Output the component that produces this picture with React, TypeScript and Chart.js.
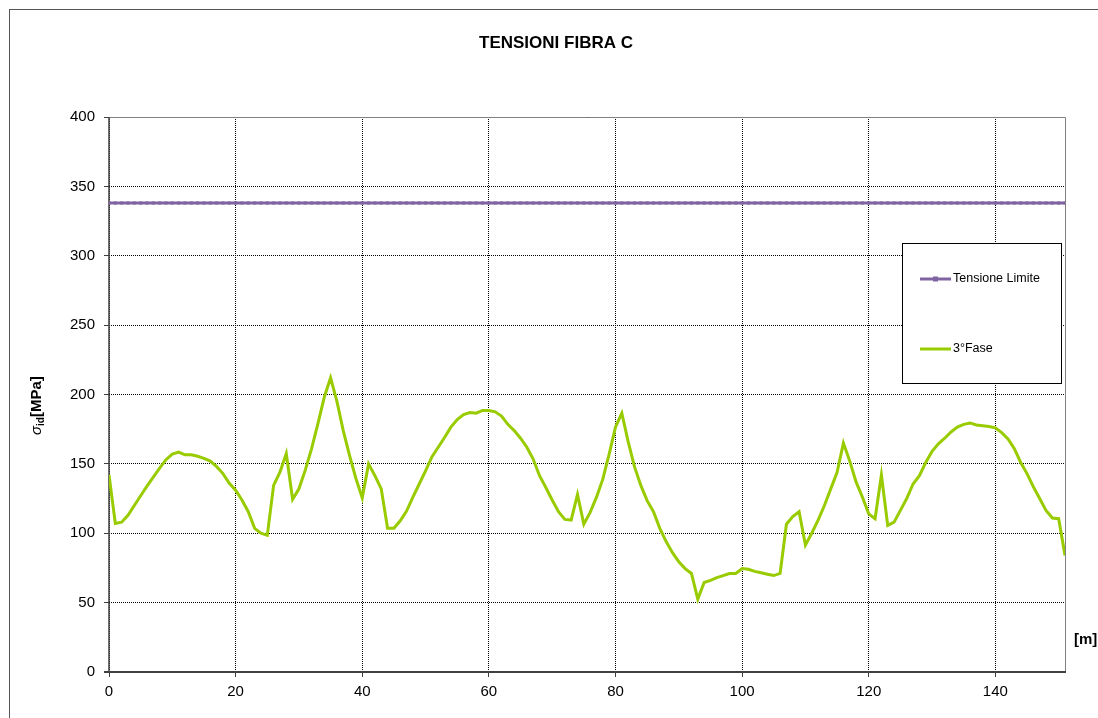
import React, { useEffect, useRef } from "react";
import { Chart, registerables } from "chart.js";

Chart.register(...registerables);

const TITLE = "TENSIONI FIBRA C";
const SERIES_LIMIT = "Tensione Limite";
const SERIES_PHASE = "3°Fase";
const X_UNIT = "[m]";
const Y_TICKS = [0, 50, 100, 150, 200, 250, 300, 350, 400];
const X_TICKS = [0, 20, 40, 60, 80, 100, 120, 140];
const X_MAX = 151;
const LIMIT_VALUE = 338;

// 3°Fase values, one per metre (0 .. 151)
const phaseValues = [
  142, 107, 108, 113, 120, 127, 134, 140.5, 147, 153,
  157, 158.5, 156.5, 156.5, 155.5, 154, 152, 148, 143, 136,
  131, 124, 115.5, 103.5, 100, 98.5, 134.5, 144, 157.5, 124.5,
  132, 145.5, 161, 179, 198, 212, 195, 174, 156, 139.5,
  125.5, 150, 141.5, 132, 103.6, 103.6, 109, 116, 126, 135.5,
  145, 155, 162, 169, 176.5, 182, 185.5, 187, 186.5, 188.5,
  188.5, 187.5, 184.5, 178.5, 174, 168.5, 162, 153.5, 141.5, 133,
  124, 115.5, 110, 109.5, 128, 106.5, 115, 126, 139, 157,
  176.5, 186.5, 166, 148, 134.5, 123.5, 115.5, 103.5, 94, 86,
  79.5, 74.5, 71, 52.5, 64.5, 66, 68, 69.5, 71, 71,
  74.5, 74, 72.5, 71.5, 70.5, 69.5, 71, 106.5, 112, 115.5,
  91.5, 100, 109.5, 120, 132, 144, 165, 152, 137, 126,
  114, 110.5, 142, 105.7, 108, 116.5, 125, 135.5, 141.5, 151,
  159, 164.5, 168.5, 173, 176.5, 178.5, 179.5, 178, 177.5, 177,
  176, 172.5, 168, 161, 151, 143, 133.5, 125, 116.5, 111,
  110.5, 84,
];

const positions = phaseValues.map((_, i) => i);
const limitValues = positions.map(() => LIMIT_VALUE);

const PURPLE = "#8064A2";
const GREEN = "#99CC00";
const FONT = "'Liberation Sans', Arial, sans-serif";

const decorPlugin = {
  id: "decor",
  beforeDraw(chart: any) {
    const ctx = chart.ctx;
    ctx.save();
    ctx.fillStyle = "#fff";
    ctx.fillRect(0, 0, chart.width, chart.height);
    ctx.strokeStyle = "#555";
    ctx.lineWidth = 1;
    ctx.strokeRect(9.5, 9.5, chart.width + 20, chart.height + 20);
    ctx.restore();
  },
  beforeDatasetsDraw(chart: any) {
    const ctx = chart.ctx;
    const a = chart.chartArea;
    ctx.save();
    ctx.setLineDash([]);
    // top & right border
    ctx.strokeStyle = "#808080";
    ctx.lineWidth = 1;
    ctx.beginPath();
    ctx.moveTo(a.left, a.top + 0.5);
    ctx.lineTo(a.right + 0.5, a.top + 0.5);
    ctx.lineTo(a.right + 0.5, a.bottom);
    ctx.stroke();
    // axes
    ctx.strokeStyle = "#404040";
    ctx.lineWidth = 1.5;
    ctx.beginPath();
    ctx.moveTo(a.left, a.top);
    ctx.lineTo(a.left, a.bottom);
    ctx.stroke();
    ctx.lineWidth = 2;
    ctx.beginPath();
    ctx.moveTo(a.left - 5, a.bottom);
    ctx.lineTo(a.right + 1, a.bottom);
    ctx.stroke();
    ctx.restore();
  },
  afterDraw(chart: any) {
    const ctx = chart.ctx;
    const a = chart.chartArea;
    ctx.save();
    ctx.fillStyle = "#000";
    // title
    ctx.font = `bold 17px ${FONT}`;
    ctx.textAlign = "center";
    ctx.textBaseline = "middle";
    ctx.fillText(TITLE, 556, 43);
    // x unit
    ctx.font = `bold 15px ${FONT}`;
    ctx.textAlign = "left";
    ctx.fillText(X_UNIT, 1074, 640);
    // y axis title
    ctx.save();
    ctx.translate(36, 435);
    ctx.rotate(-Math.PI / 2);
    ctx.textAlign = "left";
    ctx.textBaseline = "alphabetic";
    let cx = 0;
    ctx.font = `italic 15px ${FONT}`;
    ctx.fillText("σ", cx, 5);
    cx += ctx.measureText("σ").width;
    ctx.font = `bold 10px ${FONT}`;
    ctx.fillText("id", cx, 8);
    cx += ctx.measureText("id").width;
    ctx.font = `bold 15px ${FONT}`;
    ctx.fillText("[MPa]", cx, 5);
    ctx.restore();
    // legend
    ctx.fillStyle = "#fff";
    ctx.fillRect(902, 243, 159, 140);
    ctx.strokeStyle = "#000";
    ctx.lineWidth = 1;
    ctx.setLineDash([]);
    ctx.strokeRect(902.5, 243.5, 159, 140);
    ctx.lineWidth = 3;
    ctx.strokeStyle = PURPLE;
    ctx.beginPath();
    ctx.moveTo(920, 279);
    ctx.lineTo(951, 279);
    ctx.stroke();
    ctx.fillStyle = PURPLE;
    ctx.fillRect(933, 276.5, 5, 5);
    ctx.strokeStyle = GREEN;
    ctx.beginPath();
    ctx.moveTo(920, 349);
    ctx.lineTo(951, 349);
    ctx.stroke();
    ctx.fillStyle = "#000";
    ctx.font = `12.5px ${FONT}`;
    ctx.textAlign = "left";
    ctx.textBaseline = "middle";
    ctx.fillText(SERIES_LIMIT, 953, 279);
    ctx.fillText(SERIES_PHASE, 953, 349);
    ctx.restore();
  },
};

export default function App() {
  const ref = useRef<HTMLCanvasElement | null>(null);
  useEffect(() => {
    if (!ref.current) return;
    const chart = new Chart(ref.current, {
      type: "line",
      data: {
        datasets: [
          {
            label: SERIES_LIMIT,
            data: positions.map((x, i) => ({ x, y: limitValues[i] })),
            borderColor: PURPLE,
            backgroundColor: PURPLE,
            borderWidth: 3,
            pointRadius: 2.2,
            pointStyle: "rect",
            pointBorderWidth: 0,
            tension: 0,
          },
          {
            label: SERIES_PHASE,
            data: positions.map((x, i) => ({ x, y: phaseValues[i] })),
            borderColor: GREEN,
            backgroundColor: GREEN,
            borderWidth: 3,
            pointRadius: 0,
            tension: 0,
          },
        ],
      },
      plugins: [decorPlugin],
      options: {
        animation: false,
        responsive: false,
        layout: { padding: { left: 0, top: 117, right: 33, bottom: 0 } },
        plugins: {
          legend: { display: false },
          title: { display: false },
          tooltip: { enabled: false },
        },
        scales: {
          x: {
            type: "linear",
            min: 0,
            max: X_MAX,
            afterFit: (s: any) => {
              s.height = 46;
            },
            afterBuildTicks: (s: any) => {
              s.ticks = X_TICKS.map((v) => ({ value: v }));
            },
            ticks: {
              font: { family: FONT, size: 15 },
              color: "#000",
              padding: 6,
              maxRotation: 0,
              autoSkip: false,
              includeBounds: false,
            },
            grid: {
              color: "#000",
              lineWidth: 1,
              tickColor: "#404040",
              tickLength: 5,
              tickBorderDash: [],
            },
            border: { display: false, dash: [1, 1] },
          },
          y: {
            min: 0,
            max: 400,
            afterFit: (s: any) => {
              s.width = 109;
            },
            afterBuildTicks: (s: any) => {
              s.ticks = Y_TICKS.map((v) => ({ value: v }));
            },
            ticks: {
              font: { family: FONT, size: 15 },
              color: "#000",
              padding: 9,
            },
            grid: {
              color: "#000",
              lineWidth: 1,
              tickColor: "#404040",
              tickLength: 5,
              tickBorderDash: [],
            },
            border: { display: false, dash: [1, 1] },
          },
        },
      },
    });
    return () => chart.destroy();
  }, []);
  return (
    <div style={{ position: "fixed", left: 0, top: 0, width: 1098, height: 718, background: "#fff" }}>
      <canvas ref={ref} width={1098} height={718} style={{ display: "block" }} />
    </div>
  );
}
